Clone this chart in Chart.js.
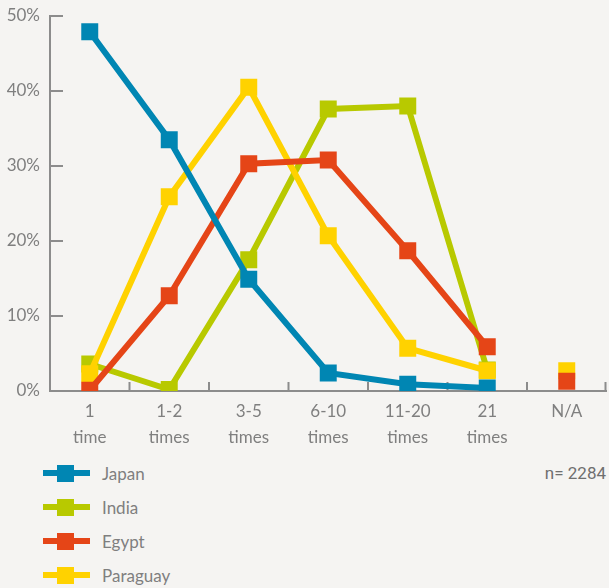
<!DOCTYPE html>
<html>
<head>
<meta charset="utf-8">
<script src="https://cdn.jsdelivr.net/npm/chart.js@4/dist/chart.umd.min.js"></script>
<style>
  html, body { margin: 0; padding: 0; background: #f5f4f2; }
  body { width: 609px; height: 588px; position: relative; overflow: hidden; font-family: Lato, "Open Sans", sans-serif; }
  #wrap { position: absolute; left: 0; top: 0; width: 609px; height: 451px; }
  #legend { position: absolute; left: 43px; top: 456px; }
  .row { height: 34px; display: flex; align-items: center; }
  .swatch { position: relative; width: 47px; height: 6px; margin-right: 12px; }
  .swatch i { position: absolute; left: 14px; top: -5.5px; width: 17px; height: 17px; }
  .row span { font-size: 17px; color: #7f7f7f; }
  #note { position: absolute; right: 3px; top: 463px; font-family: Roboto, sans-serif; font-size: 17px; color: #6f6f6f; }
</style>
</head>
<body>
<div id="wrap"><canvas id="chart"></canvas></div>
<div id="legend"></div>
<div id="note">n= 2284</div>
<script>
// Frequency categories (x axis)
const categories = [['1', 'time'], ['1-2', 'times'], ['3-5', 'times'], ['6-10', 'times'], ['11-20', 'times'], ['21', 'times'], ['N/A']];
const seriesNames = ['Japan', 'India', 'Egypt', 'Paraguay'];

// Share of respondents, percent
const japan    = [47.9, 33.5, 14.9, 2.4, 0.9, 0.4, null];
const india    = [3.6, 0.2, 17.5, 37.6, 38.0, 2.8, null];
const egypt    = [0.1, 12.7, 30.3, 30.8, 18.7, 5.9, 1.3];
const paraguay = [2.3, 25.9, 40.5, 20.7, 5.7, 2.7, 2.7];

const yTicks = [0, 10, 20, 30, 40, 50];

const colors = ['#0086b3', '#b8c900', '#e54517', '#ffd200'];
const drawOrder = [0, 3, 1, 2];
const values = [japan, india, egypt, paraguay];
const naIndex = categories.findIndex(c => c[0] === 'N/A');

const axisColor = '#8c8c8c';
const textColor = '#7f7f7f';

// Short tick marks drawn inward from both axes
const innerTicks = {
  id: 'innerTicks',
  beforeDatasetsDraw(chart) {
    const { ctx, scales: { x, y }, chartArea } = chart;
    const step = x.getPixelForValue(1) - x.getPixelForValue(0);
    ctx.save();
    ctx.strokeStyle = axisColor;
    ctx.lineWidth = 2;
    ctx.beginPath();
    yTicks.forEach(v => {
      const py = Math.round(y.getPixelForValue(v));
      ctx.moveTo(chartArea.left, py);
      ctx.lineTo(chartArea.left + 13, py);
    });
    for (let i = 0; i < categories.length; i++) {
      const px = Math.min(x.getPixelForValue(i) + step / 2, chartArea.right - 1);
      ctx.moveTo(px, chartArea.bottom);
      ctx.lineTo(px, chartArea.bottom - 9);
    }
    ctx.stroke();
    ctx.restore();
  }
};

const datasets = seriesNames.map((name, i) => ({
  label: name,
  data: values[i],
  borderColor: colors[i],
  backgroundColor: colors[i],
  borderWidth: 6,
  pointStyle: 'rect',
  pointRadius: 12,
  pointHoverRadius: 12,
  pointBorderWidth: 0,
  pointBackgroundColor: colors[i],
  tension: 0,
  order: drawOrder[i],
  segment: {
    borderColor: ctx => ctx.p1DataIndex === naIndex ? 'transparent' : undefined
  }
}));

const chart = new Chart(document.getElementById('chart'), {
  type: 'line',
  data: { labels: categories, datasets },
  options: {
    responsive: true,
    maintainAspectRatio: false,
    animation: false,
    events: [],
    layout: { autoPadding: false, padding: { top: 16, right: 2.5, left: 0, bottom: 0 } },
    plugins: { legend: { display: false }, tooltip: { enabled: false } },
    scales: {
      x: {
        type: 'category',
        offset: true,
        grid: { display: false, drawTicks: false },
        border: { display: true, color: axisColor, width: 2 },
        ticks: { color: textColor, font: { family: 'Lato', size: 17, lineHeight: 1.5 }, padding: 8, maxRotation: 0, autoSkip: false },
        afterFit(scale) { scale.height = 60; scale.paddingLeft = 0; scale.paddingRight = 0; }
      },
      y: {
        min: 0, max: 50,
        grid: { display: false, drawTicks: false },
        border: { display: true, color: axisColor, width: 2 },
        ticks: { stepSize: 10, color: textColor, font: { family: 'Lato', size: 17 }, padding: 10, callback: v => v + '%' },
        afterFit(scale) { scale.width = 50; scale.paddingTop = 0; scale.paddingBottom = 0; }
      }
    }
  },
  plugins: [innerTicks]
});

// Legend rows built from the chart's datasets
const legend = document.getElementById('legend');
chart.data.datasets.forEach(ds => {
  const row = document.createElement('div');
  row.className = 'row';
  const sw = document.createElement('div');
  sw.className = 'swatch';
  sw.style.background = ds.borderColor;
  const sq = document.createElement('i');
  sq.style.background = ds.borderColor;
  sw.appendChild(sq);
  const label = document.createElement('span');
  label.textContent = ds.label;
  row.appendChild(sw);
  row.appendChild(label);
  legend.appendChild(row);
});
</script>
</body>
</html>
